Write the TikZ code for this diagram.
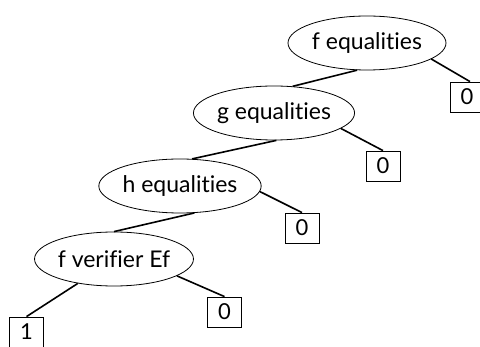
\documentclass[tikz,border=0pt]{standalone}
\usepackage{fontspec}
\setmainfont{Lato}[Ligatures=NoCommon]
\usetikzlibrary{shapes.geometric}
\begin{document}
\begin{tikzpicture}[x=1pt,y=-1pt,
  test/.style={draw,ellipse,line width=0.8pt,minimum width=158pt,minimum height=54pt,inner sep=0pt,font=\fontsize{23}{26}\selectfont},
  leaf/.style={draw,rectangle,line width=0.8pt,minimum width=34pt,minimum height=30pt,inner sep=0pt,font=\fontsize{22}{25}\selectfont},
  edge/.style={line width=1.6pt}]
\useasboundingbox (0,0) rectangle (480,347);
\node[test] (f) at (367,43) {f equalities};
\node[test] (g) at (274,113) {g equalities};
\node[test] (h) at (180,186) {h equalities};
\node[test] (v) at (114,259) {f verifier Ef};
\node[leaf] (bf) at (467,97) {0};
\node[leaf] (bg) at (383,166) {0};
\node[leaf] (bh) at (302,228) {0};
\node[leaf] (bv) at (224.5,312) {0};
\node[leaf] (b1) at (26.5,332) {1};
\draw[edge] (f.-110) -- (g.55);
\draw[edge] (g.-85) -- (h.66);
\draw[edge] (h.-62) -- (v.90);
\draw[edge] (v.-146) -- (b1.north);
\draw[edge] (f.-14) -- ([xshift=3pt]bf.north);
\draw[edge] (g.-13) -- (bg.north);
\draw[edge] (h.-4) -- (bh.north);
\draw[edge] (v.-15) -- (bv.north);
\end{tikzpicture}
\end{document}
